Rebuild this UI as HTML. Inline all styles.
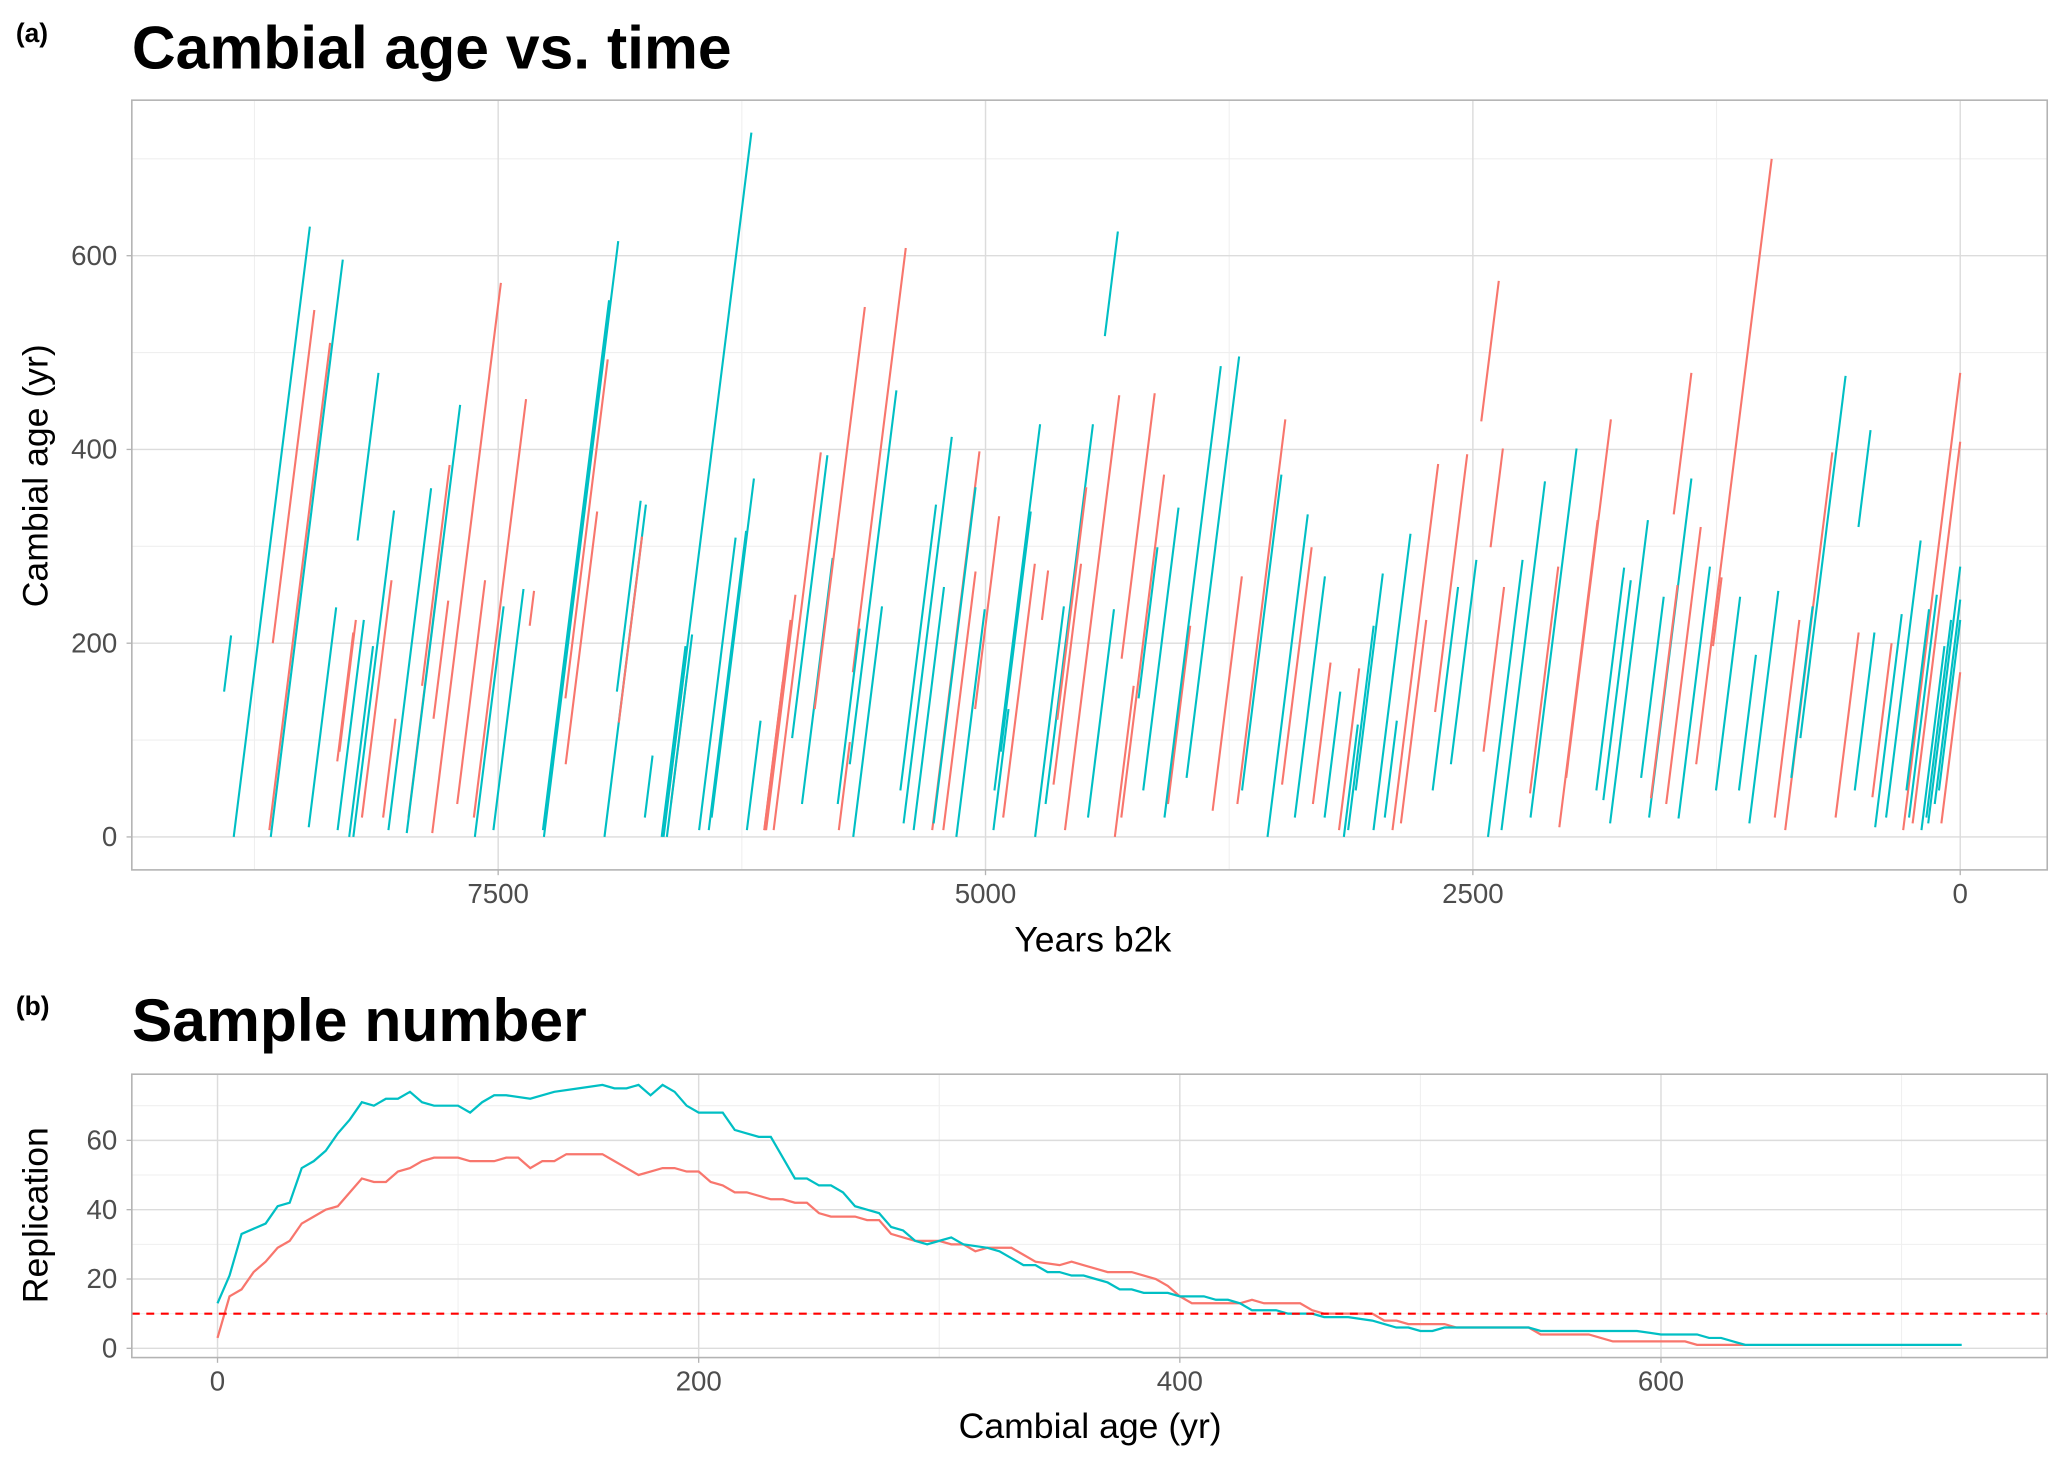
<!DOCTYPE html>
<html><head><meta charset="utf-8"><style>
html,body{margin:0;padding:0;background:#fff}
svg{display:block}
text{font-family:"Liberation Sans",Arial,sans-serif}
</style></head><body>
<svg id="fig" width="2067" height="1463" viewBox="0 0 1568 1110" preserveAspectRatio="none" xmlns="http://www.w3.org/2000/svg">
<rect width="1568" height="1110" fill="#fff"/>
<text x="12" y="32" font-size="20" font-weight="bold">(a)</text>
<text x="100" y="52" font-size="46" font-weight="bold">Cambial age vs. time</text>
<g id="gA"></g>
<text transform="translate(36,361) rotate(-90)" text-anchor="middle" font-size="27">Cambial age (yr)</text>
<text x="829" y="722" text-anchor="middle" font-size="27">Years b2k</text>
<text x="12" y="770" font-size="20" font-weight="bold">(b)</text>
<text x="100" y="790" font-size="46" font-weight="bold">Sample number</text>
<g id="gB"></g>
<text transform="translate(36,922) rotate(-90)" text-anchor="middle" font-size="27">Replication</text>
<text x="827" y="1091" text-anchor="middle" font-size="27">Cambial age (yr)</text>
</svg>
<script>
// Panel A data: each tree segment
const segEndYear = [8870,8466,8443,8362,8297,8114,8331,8189,8243,8230,8142,8034,8047,8027,7844,7783,7695,7749,7756,7486,7567,7472,7357,7316,7370,6992,6938,6931,6884,6742,6762,6769,6708,6539,6532,6505,6201,6282,6228,6188,6154,6000,5975,6010,6040,5845,5811,5784,5696,5619,5409,5457,5646,5531,5254,5173,5213,5031,5051,5004,5051,4930,4882,4768,4747,4720,4679,4598,4510,4449,4483,4321,4341,4314,4240,4132,4118,4084,4010,3950,3793,3699,3685,3462,3482,3347,3327,3259,3083,3090,3009,2962,2820,2739,2678,2576,2529,2482,2367,2346,2245,2340,2130,2062,1968,1860,1792,1724,1690,1602,1521,1379,1379,1331,1284,1224,967,1129,1048,933,656,588,460,521,440,352,203,0,0,0,0,0,0,47,81,757,825,120,160,300,3180,3230,2890,1450];
const segStartAge = [150,0,200,7,0,306,10,7,78,88,0,0,20,20,7,20,4,156,122,4,34,0,20,218,7,75,143,7,0,0,118,150,20,0,34,0,0,7,7,20,7,7,7,7,7,7,102,34,7,132,170,75,34,0,48,14,7,7,14,0,7,132,7,88,20,48,224,0,54,34,121,517,20,7,0,184,143,20,48,34,20,61,27,34,48,0,54,20,7,0,7,48,7,14,7,48,129,75,429,299,0,88,7,45,20,10,61,48,38,14,61,333,20,34,19,197,75,48,48,14,7,102,320,20,48,41,20,7,14,14,48,14,34,20,7,61,20,20,48,10,20,34,20,40];
const segEndAge = [208,630,544,510,596,479,237,224,211,224,197,337,265,122,360,306,446,384,244,572,265,238,452,254,256,336,493,554,615,343,310,347,84,197,166,209,727,309,316,370,120,224,250,200,160,397,394,288,98,547,608,461,215,238,343,413,258,398,361,235,274,331,132,336,282,426,275,238,282,426,361,625,235,456,156,458,299,374,340,218,486,496,269,431,374,333,299,269,174,116,218,272,313,224,385,258,395,286,574,401,286,258,367,279,401,327,431,278,265,327,248,479,370,320,279,268,700,248,188,254,397,476,420,211,211,200,306,479,408,279,224,170,245,224,197,238,224,250,235,230,150,180,120,260];
const segGroup = ["T","T","R","R","T","T","T","T","R","R","T","T","R","R","T","R","T","R","R","R","R","T","R","R","T","R","R","T","T","T","R","T","T","T","R","T","T","T","T","T","T","R","R","R","R","R","T","T","R","R","R","T","T","T","T","T","T","R","T","T","R","R","T","T","R","T","R","T","R","T","R","T","T","R","R","R","T","R","T","R","T","T","R","R","T","T","R","T","R","T","T","T","T","R","R","T","R","T","R","R","T","R","T","R","T","R","R","T","T","T","T","R","T","R","T","R","R","T","T","T","R","T","T","R","T","R","T","R","R","T","T","R","T","T","T","T","R","T","T","T","T","R","T","R"];
const yearsPerAge = 0.62;
const aXTicks = [7500,5000,2500,0];
const aXMinor = [8750,6250,3750,1250];
const aYTicks = [0,200,400,600];
const aYMinor = [100,300,500,700];

// Panel B data
const tealAge = [0,5,10,20,25,30,35,40,45,50,55,60,65,70,75,80,85,90,100,105,110,115,120,130,140,150,160,165,170,175,180,185,190,195,200,210,215,220,225,230,240,245,250,255,260,265,270,275,280,285,290,295,300,305,310,320,325,330,335,340,345,350,355,360,365,370,375,380,385,395,400,410,415,420,425,430,440,445,455,460,470,480,485,490,495,500,505,510,545,550,590,600,615,620,625,630,635,725];
const tealN = [13,21,33,36,41,42,52,54,57,62,66,71,70,72,72,74,71,70,70,68,71,73,73,72,74,75,76,75,75,76,73,76,74,70,68,68,63,62,61,61,49,49,47,47,45,41,40,39,35,34,31,30,31,32,30,29,28,26,24,24,22,22,21,21,20,19,17,17,16,16,15,15,14,14,13,11,11,10,10,9,9,8,7,6,6,5,5,6,6,5,5,4,4,3,3,2,1,1];
const redAge = [0,5,10,15,20,25,30,35,40,45,50,55,60,65,70,75,80,85,90,100,105,115,120,125,130,135,140,145,160,165,170,175,180,185,190,195,200,205,210,215,220,230,235,240,245,250,255,265,270,275,280,285,290,300,305,310,315,320,330,335,340,350,355,360,370,380,385,390,395,400,405,425,430,435,450,455,460,480,485,490,495,510,515,545,550,570,575,580,610,615,635];
const redN = [3,15,17,22,25,29,31,36,38,40,41,45,49,48,48,51,52,54,55,55,54,54,55,55,52,54,54,56,56,54,52,50,51,52,52,51,51,48,47,45,45,43,43,42,42,39,38,38,37,37,33,32,31,31,30,30,28,29,29,27,25,24,25,24,22,22,21,20,18,15,13,13,14,13,13,11,10,10,8,8,7,7,6,6,4,4,3,2,2,1,1];
const threshold = [10];
const bXTicks = [0,200,400,600];
const bXMinor = [100,300,500,700];
const bYTicks = [0,20,40,60];
const bYMinor = [10,30,50,70];

const NS = "http://www.w3.org/2000/svg";
const TEAL = "#00BFC4", RED = "#F8766D";
function mk(parent, tag, attrs) {
  const e = document.createElementNS(NS, tag);
  for (const k in attrs) e.setAttribute(k, attrs[k]);
  parent.appendChild(e);
  return e;
}
const A = {x0:100, x1:1553, y0:76, y1:660};
const ax = y => 1487 - y * (369.7 / 2500);
const ay = a => 635 - a * (147 / 200);
const B = {x0:100, x1:1553, y0:815, y1:1030};
const bx = a => 165 + a * 1.825;
const by = n => 1023 - n * 2.63;

function frame(g, P, xMinor, xTicks, yMinor, yTicks, fx, fy, pre) {
  xMinor.forEach(v => { const l = mk(g, "line", {x1:fx(v), x2:fx(v), y1:P.y0, y2:P.y1, stroke:"#efefef", "stroke-width":0.8});
    
     });
  yMinor.forEach(v => { const l = mk(g, "line", {x1:P.x0, x2:P.x1, y1:fy(v), y2:fy(v), stroke:"#efefef", "stroke-width":0.8});
    
     });
  xTicks.forEach(v => {
    const l = mk(g, "line", {x1:fx(v), x2:fx(v), y1:P.y0, y2:P.y1, stroke:"#dcdcdc", "stroke-width":1.1});
    
    
    const tk = mk(g, "line", {x1:fx(v), x2:fx(v), y1:P.y1, y2:P.y1 + 4, stroke:"#b3b3b3", "stroke-width":1});
    
    
    const t = mk(g, "text", {x:fx(v), y:P.y1 + 25, "text-anchor":"middle", "font-size":21, fill:"#4d4d4d"});
    t.textContent = v;
    
    
  });
  yTicks.forEach(v => {
    const l = mk(g, "line", {x1:P.x0, x2:P.x1, y1:fy(v), y2:fy(v), stroke:"#dcdcdc", "stroke-width":1.1});
    
    
    const tk = mk(g, "line", {x1:P.x0 - 4, x2:P.x0, y1:fy(v), y2:fy(v), stroke:"#b3b3b3", "stroke-width":1});
    
    
    const t = mk(g, "text", {x:P.x0 - 11, y:fy(v) + 7, "text-anchor":"end", "font-size":21, fill:"#4d4d4d"});
    t.textContent = v;
    
    
  });
}
function border(g, P, pre) {
  const r = mk(g, "rect", {x:P.x0, y:P.y0, width:P.x1 - P.x0, height:P.y1 - P.y0, fill:"none", stroke:"#b3b3b3", "stroke-width":1.2});
  
  
}

const gA = document.getElementById("gA");
frame(gA, A, aXMinor, aXTicks, aYMinor, aYTicks, ax, ay, "panel-a");
for (let i = 0; i < segEndYear.length; i++) {
  const a0 = segStartAge[i], a1 = segEndAge[i];
  const startYear = segEndYear[i] + (a1 - a0) * yearsPerAge;
  const l = mk(gA, "line", {x1:ax(startYear), y1:ay(a0), x2:ax(segEndYear[i]), y2:ay(a1),
    stroke: segGroup[i] === "T" ? TEAL : RED, "stroke-width":1.6});
  
  
}
border(gA, A, "panel-a");

const gB = document.getElementById("gB");
frame(gB, B, bXMinor, bXTicks, bYMinor, bYTicks, bx, by, "panel-b");
const rl = mk(gB, "polyline", {points: redAge.map((a, i) => bx(a) + "," + by(redN[i])).join(" "), fill:"none", stroke:RED, "stroke-width":1.7});


const tl = mk(gB, "polyline", {points: tealAge.map((a, i) => bx(a) + "," + by(tealN[i])).join(" "), fill:"none", stroke:TEAL, "stroke-width":1.7});


const th = mk(gB, "line", {x1:B.x0, x2:B.x1, y1:by(threshold[0]), y2:by(threshold[0]), stroke:"#ff0000", "stroke-width":1.6, "stroke-dasharray":"6,5"});


border(gB, B, "panel-b");
</script>
</body></html>
